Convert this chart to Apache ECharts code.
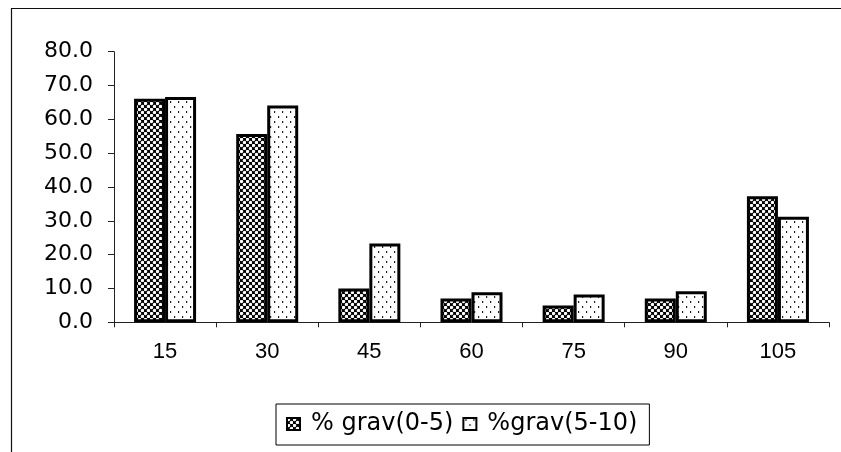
<!DOCTYPE html>
<html>
<head>
<meta charset="utf-8">
<script src="https://cdn.jsdelivr.net/npm/echarts@6/dist/echarts.min.js"></script>
<style>
  html, body { margin: 0; padding: 0; background: #fff; }
  #chart { width: 841px; height: 452px; }
</style>
</head>
<body>
<div id="chart"></div>
<script>
// Depth classes on the x axis
const categories = ['15', '30', '45', '60', '75', '90', '105'];
// Gravel percentage per depth
const grav0to5 = [66.1, 55.7, 10.0, 7.0, 5.0, 7.0, 37.3];
const grav5to10 = [66.6, 64.1, 23.3, 8.9, 8.2, 9.2, 31.2];
const seriesNames = ['% grav(0-5)', '%grav(5-10)'];
const yTicks = { min: 0, max: 80, step: 10 };

// Dense fill: black ground with white dots on an offset lattice
function densePattern() {
  const c = document.createElement('canvas');
  c.width = 6; c.height = 6;
  const g = c.getContext('2d');
  g.fillStyle = '#000';
  g.fillRect(0, 0, 6, 6);
  g.fillStyle = '#fff';
  [[1.5, 1.5], [4.5, 4.5]].forEach(([x, y]) => {
    g.beginPath();
    g.arc(x, y, 1.7, 0, Math.PI * 2);
    g.fill();
  });
  return c;
}

// Sparse fill: white ground with fine black specks in loose columns
function sparsePattern() {
  const c = document.createElement('canvas');
  c.width = 8; c.height = 10;
  const g = c.getContext('2d');
  g.fillStyle = '#fff';
  g.fillRect(0, 0, 8, 10);
  g.fillStyle = '#222';
  g.fillRect(2, 1, 1.2, 2);
  g.fillRect(6, 6, 1.2, 2);
  return c;
}

const chart = echarts.init(document.getElementById('chart'), null, { renderer: 'canvas' });

const axisFont = 'Liberation Sans, Arial, sans-serif';
const wideFont = 'DejaVu Sans, sans-serif';

chart.setOption({
  backgroundColor: '#fff',
  animation: false,
  grid: { left: 114, right: 12, top: 51.7, bottom: 129.7, containLabel: false },
  graphic: [
    {
      type: 'polyline',
      shape: { points: [[11.5, 460], [11.5, 8.5], [850, 8.5]] },
      style: { stroke: '#111', lineWidth: 1.2, fill: null },
      silent: true
    }
  ],
  legend: {
    data: seriesNames,
    left: 276,
    top: 404,
    orient: 'horizontal',
    padding: [8, 12, 9, 10],
    borderColor: '#000',
    borderWidth: 1,
    itemWidth: 13,
    itemHeight: 12,
    itemGap: 9,
    icon: 'rect',
    itemStyle: { borderColor: '#000', borderWidth: 2 },
    textStyle: { fontFamily: wideFont, fontSize: 24, color: '#000', padding: [0, 0, 0, 6] }
  },
  xAxis: {
    type: 'category',
    data: categories,
    axisLine: { lineStyle: { color: '#222', width: 1 } },
    axisTick: { show: true, length: 5, inside: false, lineStyle: { color: '#222' } },
    axisLabel: { fontFamily: axisFont, fontSize: 22, color: '#000', margin: 19 },
    splitLine: { show: false }
  },
  yAxis: {
    type: 'value',
    min: yTicks.min,
    max: yTicks.max,
    interval: yTicks.step,
    axisLine: { show: true, lineStyle: { color: '#222', width: 1 } },
    axisTick: { show: true, length: 6, inside: false, lineStyle: { color: '#222' } },
    axisLabel: {
      fontFamily: wideFont, fontSize: 22, color: '#000', margin: 21,
      formatter: v => v.toFixed(1)
    },
    splitLine: { show: false }
  },
  series: [
    {
      name: seriesNames[0],
      type: 'bar',
      data: grav0to5,
      barWidth: 31,
      barGap: '0%',
      itemStyle: {
        color: { image: densePattern(), repeat: 'repeat' },
        borderColor: '#000',
        borderWidth: 3
      }
    },
    {
      name: seriesNames[1],
      type: 'bar',
      data: grav5to10,
      barWidth: 31,
      barGap: '0%',
      itemStyle: {
        color: { image: sparsePattern(), repeat: 'repeat' },
        borderColor: '#000',
        borderWidth: 3
      }
    }
  ]
});
</script>
</body>
</html>
